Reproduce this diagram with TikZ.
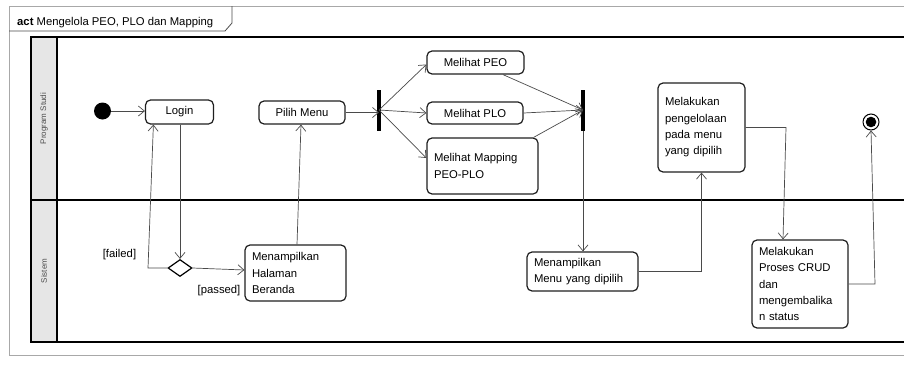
\documentclass[tikz,border=0pt]{standalone}
\usepackage{fontspec}
\setmainfont{Liberation Sans}
\usetikzlibrary{arrows.meta,shapes.geometric}

\definecolor{framegray}{HTML}{A8A8A8}
\definecolor{lanegray}{HTML}{E6E6E6}
\definecolor{edgegray}{HTML}{4A4A4A}

\begin{document}
\begin{tikzpicture}[x=1pt,y=-1pt,
  txt/.style={font=\fontsize{11.3}{16.3}\selectfont},
  act/.style={txt, draw=black!88, line width=1.2pt, rounded corners=5pt,
    fill=white, inner xsep=7pt, inner ysep=2pt, align=center},
  actl/.style={act, align=left},
  bar/.style={fill=black, draw=none, minimum width=4pt, minimum height=41pt, inner sep=0pt},
  flow/.style={draw=edgegray, line width=0.7pt, -{Straight Barb[length=6pt,width=10pt]}},
  lanelabel/.style={rotate=90, font=\fontsize{8}{9}\selectfont, text=black!70}
]
\useasboundingbox (0,0) rectangle (904,367);
\clip (0,0) rectangle (904,367);
\fill[white] (0,0) rectangle (904,367);

% outer diagram frame and its title tab
\draw[framegray, line width=0.8pt] (930,6) -- (9,6) -- (9,355) -- (930,355);
\draw[black!70, line width=0.8pt] (9,31) -- (225,31) -- (232,23) -- (232,6);
\node[txt, anchor=base west, inner sep=0pt] (title) at (17,25)
  {\textbf{act} Mengelola PEO, PLO dan Mapping};

% swimlanes
\fill[lanegray] (31,37) rectangle (57,342);
\draw[black, line width=1.2pt] (930,37) -- (31,37) -- (31,342) -- (930,342);
\draw[black, line width=1.2pt] (57,37) -- (57,342);
\draw[black, line width=1.2pt] (31,200) -- (930,200);
\node[lanelabel] (laneA) at (44,118.5) {Program Studi};
\node[lanelabel] (laneB) at (44,271) {Sistem};

% initial and final nodes
\node[circle, fill=black, minimum size=17pt, inner sep=0pt] (init) at (102.5,111) {};
\node[circle, draw=black, line width=1pt, fill=white, minimum size=16pt, inner sep=0pt] (fin) at (871,122) {};
\fill[black] (fin.center) circle (5.3pt);

% actions
\node[act, minimum width=68pt, minimum height=24pt] (login) at (179.5,112) {Login};
\node[act, minimum width=86pt, minimum height=23pt] (pilih) at (302,112.5) {Pilih Menu};
\node[act, minimum width=97pt, minimum height=23pt] (peo) at (475.5,62.5) {Melihat PEO};
\node[act, minimum width=96pt, minimum height=22pt] (plo) at (475,113) {Melihat PLO};
\node[actl, text width=97pt, minimum height=56pt] (map) at (482.5,166)
  {Melihat Mapping\\PEO-PLO};
\node[actl, text width=73pt, minimum height=89pt] (kelola) at (701.5,127.5)
  {Melakukan\\pengelolaan\\pada menu\\yang dipilih};
\node[actl, text width=87pt, minimum height=56pt] (beranda) at (295.5,273)
  {Menampilkan\\Halaman\\Beranda};
\node[actl, text width=97pt, minimum height=39pt] (menu) at (582.5,271.5)
  {Menampilkan\\Menu yang dipilih};
\node[actl, text width=82pt, minimum height=88pt] (crud) at (800,284)
  {Melakukan\\Proses CRUD\\dan\\mengembalika\\n status};

% decision, fork and join
\node[diamond, draw=black, line width=1.2pt, fill=white, minimum width=24pt,
  minimum height=17pt, inner sep=0pt] (dec) at (180,268) {};
\node[bar] (fork) at (379,110) {};
\node[bar] (join) at (583,110) {};

% guard labels
\node[txt, anchor=base, inner sep=0pt] (gfail) at (119.5,257) {[failed]};
\node[txt, anchor=base, inner sep=0pt] (gpass) at (219,293) {[passed]};

% bend points
\coordinate (bfail) at (148,268);
\coordinate (bkelola) at (786,127.5);
\coordinate (bcrud) at (875,284);

% control flow
\draw[flow] (init) -- (login.west |- init);
\draw[flow] (dec.north |- login.south) -- (dec.north);
\draw[flow] (dec.west) -- (bfail) -- ([xshift=8.5pt]login.south west);
\draw[flow] (dec.east) -- ([yshift=3pt]beranda.west);
\draw[flow] ([xshift=1.5pt]beranda.north) -- ([xshift=-1pt]pilih.south);
\draw[flow] (pilih.east) -- (fork.center |- pilih.east);
\draw[flow] (fork.center) -- ([yshift=-2pt]peo.west);
\draw[flow] (fork.center) -- (plo.west);
\draw[flow] (fork.center) -- ([yshift=8pt]map.west);
\draw[flow] ([xshift=27.5pt]peo.south) -- (join.center);
\draw[flow] (plo.east) -- (join.center);
\draw[flow] ([xshift=-5pt]map.north east) -- (join.center);
\draw[flow] (join.south) -- (join.south |- menu.north);
\draw[flow] (menu.east) -| (kelola.south);
\draw[flow] (kelola.east) -- (bkelola) -- ([xshift=-17pt]crud.north);
\draw[flow] (crud.east) -- (bcrud) -- (fin.south);
\end{tikzpicture}
\end{document}
